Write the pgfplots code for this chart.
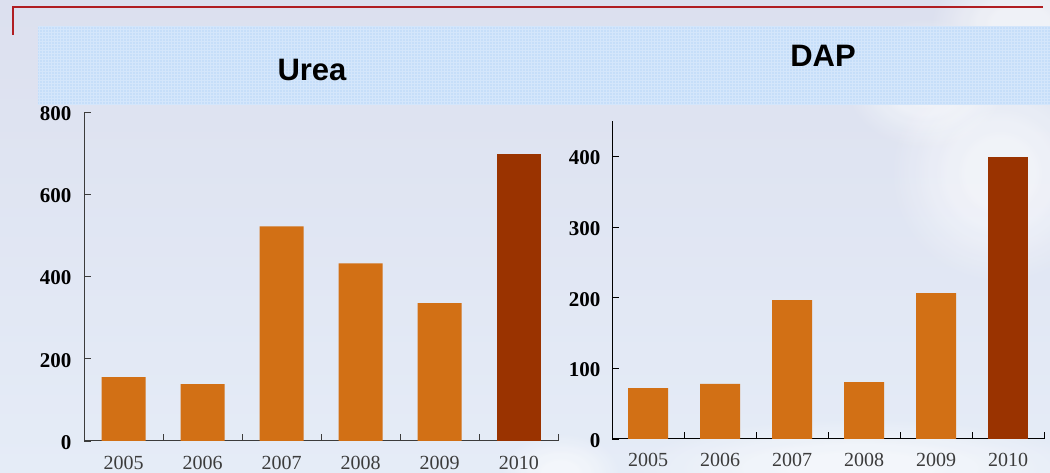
\documentclass[border=0pt]{standalone}
\usepackage{pgfplots}
\pgfplotsset{compat=1.18}
\usepackage{fontspec}
\setmainfont{Liberation Serif}
\newfontfamily\titlefont{Liberation Sans}
\usetikzlibrary{fadings}
\definecolor{bgtop}{RGB}{220,224,239}
\definecolor{bgbot}{RGB}{229,236,247}
\definecolor{band}{RGB}{198,222,249}
\definecolor{bandline}{RGB}{218,234,252}
\definecolor{redline}{RGB}{176,30,35}
\definecolor{barorange}{RGB}{210,112,21}
\definecolor{bardark}{RGB}{154,51,0}
\definecolor{axgray}{RGB}{60,60,60}
\begin{document}
\begin{tikzpicture}[x=1pt,y=1pt]
% background
\shade[top color=bgtop,bottom color=bgbot] (0,0) rectangle (1050,473);
% clouds (soft, stacked)
\foreach \r/\o in {1/0.18,0.8/0.2,0.6/0.22,0.4/0.2}{
  \fill[white,opacity=\o,path fading=circle with fuzzy edge 20 percent] (1000,300) ellipse ({110*\r} and {110*\r});
  \fill[white,opacity=\o,path fading=circle with fuzzy edge 20 percent] (925,390) ellipse ({80*\r} and {65*\r});
  \fill[white,opacity=\o,path fading=circle with fuzzy edge 20 percent] (860,5) ellipse ({230*\r} and {50*\r});
  \fill[white,opacity=\o,path fading=circle with fuzzy edge 20 percent] (1020,450) ellipse ({90*\r} and {55*\r});
  \fill[white,opacity=\o,path fading=circle with fuzzy edge 20 percent] (560,0) ellipse ({60*\r} and {40*\r});
}
% blue band
\fill[band] (38,368) rectangle (1050,447);
\begin{scope}
\clip (38,368) rectangle (1050,447);
\draw[bandline,line width=0.5pt,opacity=0.7,step=3] (38,368) grid (1050,447);
\end{scope}
% red frame line
\draw[redline,line width=2pt] (12.7,438) -- (12.7,466) -- (1043,466);
% titles
\node[font=\titlefont\fontsize{31}{31}\selectfont\bfseries] at (312,403) {Urea};
\node[font=\titlefont\fontsize{31}{31}\selectfont\bfseries] at (823,417) {DAP};
% Urea
\begin{axis}[
  at={(84pt,32pt)}, anchor=south west,
  scale only axis, width=474.3pt, height=329pt,
  xmin=-0.5, xmax=5.5, ymin=0, ymax=800,
  axis x line*=bottom, axis y line*=left,
  axis line style={-,axgray,line width=1pt},
  every tick/.style={axgray,line width=0.8pt},
  major tick length=6.5pt, tick align=inside,
  xtick={-0.5,0.5,1.5,2.5,3.5,4.5,5.5}, xticklabels={},
  extra x ticks={0,1,2,3,4,5},
  extra x tick labels={2005,2006,2007,2008,2009,2010},
  extra x tick style={major tick length=0pt,
     xticklabel style={font=\fontsize{20}{20}\selectfont, text=axgray, yshift=-12pt}},
  ytick={0,200,400,600,800},
  /pgf/number format/assume math mode=true,
  yticklabel style={font=\fontsize{21}{21}\selectfont\bfseries, xshift=-9pt, yshift=-1.5pt},
  clip=false,
]
\addplot[ybar, bar width=44pt, fill=barorange, draw=none] coordinates {(0,155.5) (1,138.5) (2,522) (3,432) (4,335)};
\addplot[ybar, bar width=44pt, fill=bardark, draw=none] coordinates {(5,697)};
\end{axis}
% DAP
\begin{axis}[
  at={(612pt,34pt)}, anchor=south west,
  scale only axis, width=432pt, height=318pt,
  xmin=-0.5, xmax=5.5, ymin=0, ymax=450,
  axis x line*=bottom, axis y line*=left,
  axis line style={-,black,line width=1pt},
  every tick/.style={black,line width=0.8pt},
  major tick length=6.5pt, tick align=inside,
  xtick={-0.5,0.5,1.5,2.5,3.5,4.5,5.5}, xticklabels={},
  extra x ticks={0,1,2,3,4,5},
  extra x tick labels={2005,2006,2007,2008,2009,2010},
  extra x tick style={major tick length=0pt,
     xticklabel style={font=\fontsize{20}{20}\selectfont, text=axgray, yshift=-11pt}},
  ytick={0,100,200,300,400},
  /pgf/number format/assume math mode=true,
  yticklabel style={font=\fontsize{21}{21}\selectfont\bfseries, xshift=-8pt, yshift=-1.5pt},
  clip=false,
]
\addplot[ybar, bar width=40pt, fill=barorange, draw=none] coordinates {(0,72) (1,78) (2,196.6) (3,80.6) (4,206.5)};
\addplot[ybar, bar width=40pt, fill=bardark, draw=none] coordinates {(5,399)};
\end{axis}
\pgfresetboundingbox
\useasboundingbox (0,0) rectangle (1050,473);
\end{tikzpicture}
\end{document}
